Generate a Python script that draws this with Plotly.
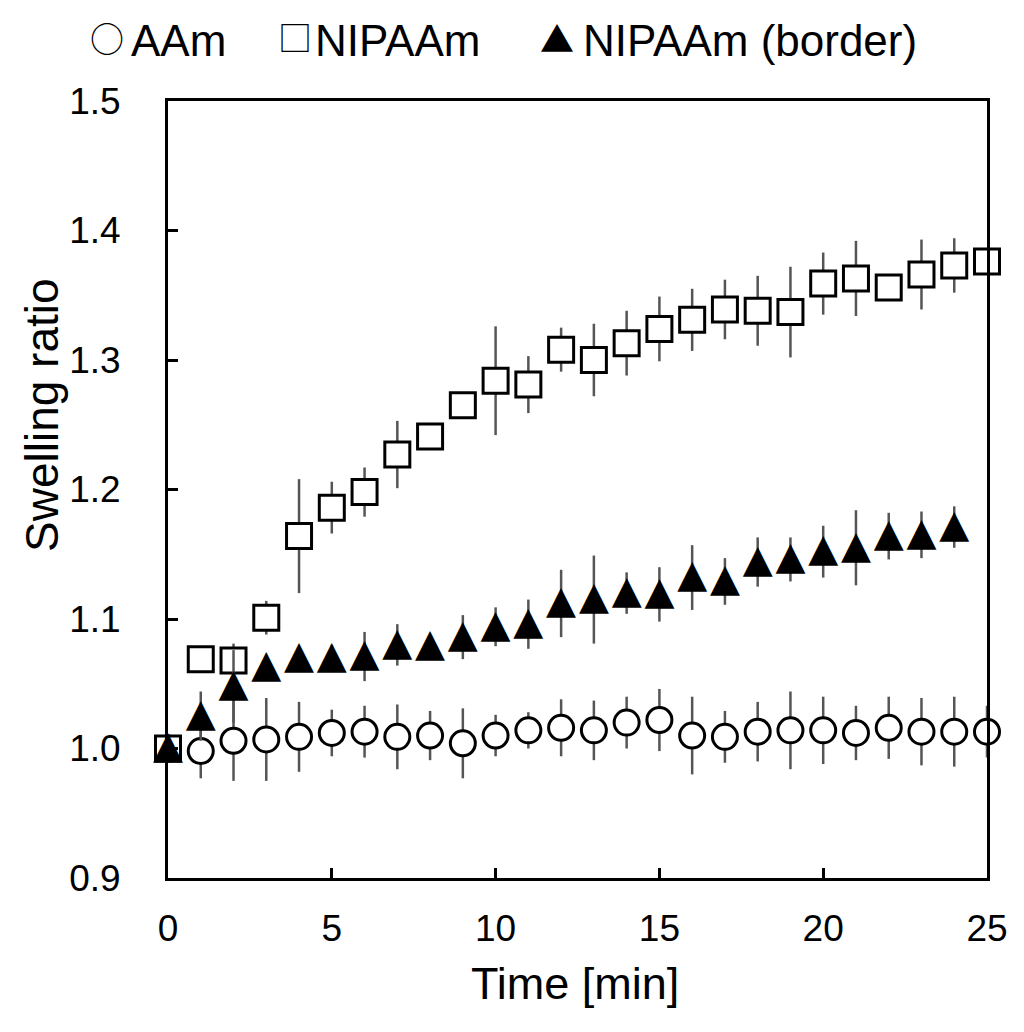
import plotly.graph_objects as go

time_min = list(range(0, 26))
time_border = list(range(0, 25))

aam = [1.000, 0.998, 1.006, 1.007, 1.009, 1.012, 1.013, 1.009, 1.010, 1.004,
       1.010, 1.014, 1.016, 1.014, 1.020, 1.022, 1.010, 1.009, 1.013, 1.014,
       1.014, 1.012, 1.016, 1.013, 1.013, 1.013]
aam_err = [0.000, 0.021, 0.031, 0.032, 0.027, 0.018, 0.020, 0.025, 0.019, 0.027,
           0.016, 0.014, 0.022, 0.023, 0.020, 0.024, 0.030, 0.020, 0.023, 0.030,
           0.026, 0.021, 0.024, 0.026, 0.027, 0.020]

nipaam = [1.000, 1.069, 1.068, 1.101, 1.164, 1.186, 1.198, 1.227, 1.241, 1.265,
          1.284, 1.281, 1.308, 1.300, 1.313, 1.324, 1.331, 1.339, 1.338, 1.337,
          1.359, 1.363, 1.356, 1.366, 1.373, 1.376]
nipaam_err = [0.000, 0.005, 0.013, 0.013, 0.044, 0.020, 0.019, 0.026, 0.010, 0.010,
              0.042, 0.022, 0.017, 0.028, 0.025, 0.025, 0.024, 0.023, 0.027, 0.035,
              0.024, 0.029, 0.008, 0.027, 0.021, 0.010]

border = [1.000, 1.025, 1.048, 1.063, 1.070, 1.070, 1.071, 1.080, 1.079, 1.086,
          1.094, 1.096, 1.112, 1.115, 1.120, 1.119, 1.132, 1.129, 1.144, 1.146,
          1.152, 1.155, 1.164, 1.165, 1.171]
border_err = [0.000, 0.019, 0.028, 0.008, 0.008, 0.010, 0.019, 0.016, 0.008, 0.017,
              0.015, 0.019, 0.026, 0.034, 0.016, 0.021, 0.025, 0.018, 0.019, 0.017,
              0.020, 0.029, 0.018, 0.018, 0.016]

x_ticks = [0, 5, 10, 15, 20, 25]
y_ticks = [0.9, 1.0, 1.1, 1.2, 1.3, 1.4, 1.5]
series_names = ["AAm", "NIPAAm", "NIPAAm (border)"]
legend_symbols = ["○", "□", "▲"]

FONT = "Liberation Sans, Arial, sans-serif"
ERR = dict(type="data", visible=True, thickness=2.5, width=0, color="#555555")

fig = go.Figure()
fig.add_trace(go.Scatter(
    x=time_min, y=aam, name=series_names[0], mode="markers",
    error_y=dict(array=aam_err, **ERR),
    marker=dict(symbol="circle", size=25, color="white",
                line=dict(color="black", width=3)),
    cliponaxis=False, showlegend=False))
fig.add_trace(go.Scatter(
    x=time_min, y=nipaam, name=series_names[1], mode="markers",
    error_y=dict(array=nipaam_err, **ERR),
    marker=dict(symbol="square", size=25, color="white",
                line=dict(color="black", width=3)),
    cliponaxis=False, showlegend=False))
fig.add_trace(go.Scatter(
    x=time_border, y=border, name=series_names[2], mode="text",
    text=["▲"] * len(border), textposition="middle center",
    textfont=dict(family="DejaVu Sans", size=39, color="black"),
    error_y=dict(array=border_err, **ERR),
    cliponaxis=False, showlegend=False))

# plot area as seen on the page (body has an 8px default margin)
OFF = 8
L, W, T, H = 168, 819, 101, 777
def px(x):
    return (x - L) / W
def py(y):
    return (T + H - y) / H

sym_pos = [(106.5, 37), (294.5, 36), (557, 38)]
lab_pos = [130, 314, 582]
for s, (sx, sy), name, lx in zip(legend_symbols, sym_pos, series_names, lab_pos):
    fig.add_annotation(x=px(sx), y=py(sy), xref="paper", yref="paper",
                       text=s, showarrow=False, xanchor="center", yanchor="middle",
                       font=dict(family="Noto Sans CJK JP", size=34, color="black"))
    fig.add_annotation(x=px(lx), y=py(40), xref="paper", yref="paper",
                       text=name, showarrow=False, xanchor="left", yanchor="middle",
                       borderpad=0,
                       font=dict(family=FONT, size=44, color="black"))

# axis titles
fig.add_annotation(x=px(42), y=py(415), xref="paper", yref="paper",
                   text="Swelling ratio", textangle=-90, showarrow=False,
                   xanchor="center", yanchor="middle",
                   font=dict(family=FONT, size=46, color="black"))
fig.add_annotation(x=px(575), y=py(984), xref="paper", yref="paper",
                   text="Time [min]", showarrow=False,
                   xanchor="center", yanchor="middle",
                   font=dict(family=FONT, size=45, color="black"))

axis_common = dict(showline=True, linewidth=3, linecolor="black", mirror=True,
                   ticks="inside", ticklen=10, tickwidth=2.5, tickcolor="black",
                   showgrid=False, zeroline=False,
                   tickfont=dict(family=FONT, size=37, color="black"))
fig.update_xaxes(range=[0, 25], tickvals=x_ticks, ticklabelstandoff=16, **axis_common)
fig.update_yaxes(range=[0.9, 1.5], tickvals=y_ticks, tickformat=".1f",
                 ticklabelstandoff=37, **axis_common)

fig.update_layout(width=1024, height=1032,
                  margin=dict(l=L - OFF, r=1024 - (L - OFF) - W,
                              t=T - OFF, b=1032 - (T - OFF) - H),
                  paper_bgcolor="white", plot_bgcolor="white",
                  font=dict(family=FONT, color="black"))

fig.write_html("out.html")
